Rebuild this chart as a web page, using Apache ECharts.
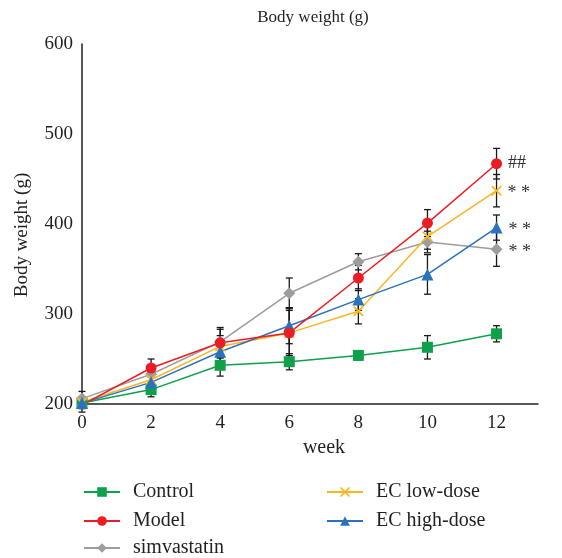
<!DOCTYPE html>
<html>
<head>
<meta charset="utf-8">
<script src="https://cdn.jsdelivr.net/npm/echarts@6/dist/echarts.min.js"></script>
<style>
  html, body { margin: 0; padding: 0; background: #fff; }
  #chart { width: 562px; height: 558px; }
</style>
</head>
<body>
<div id="chart"></div>
<script>
// weeks on the x axis
const weeks = [0, 2, 4, 6, 8, 10, 12];

// mean body weight (g) per group
const control    = [201, 216, 243, 247, 254, 263, 278];
const model      = [199, 240, 268, 279, 340, 401, 467];
const simva      = [206, 233, 269, 323, 358, 380, 372];
const lowDose    = [202, 227, 264, 279, 303, 386, 437];
const highDose   = [201, 224, 258, 287, 316, 344, 396];

// error bar half-widths (g)
const controlErr = [6, 8, 12, 9, 5, 13, 9];
const modelErr   = [8, 10, 17, 28, 14, 15, 17];
const simvaErr   = [8, 9, 14, 17, 9, 12, 19];
const lowErr     = [6, 9, 12, 25, 14, 14, 18];
const highErr    = [6, 8, 12, 20, 12, 22, 14];

// significance marks next to the last point
const marks = { model: '##', low: '* *', high: '* *', simva: '* *' };

const serif = '"Liberation Serif", "DejaVu Serif", serif';
const textColor = '#231f20';

const xMark = 'path://M0,0L1.2,0L5,3.8L8.8,0L10,0L10,1.2L6.2,5L10,8.8L10,10L8.8,10L5,6.2L1.2,10L0,10L0,8.8L3.8,5L0,1.2Z';

function pts(vals, mark) {
    return vals.map((v, i) => {
        const item = { value: [weeks[i], v] };
        if (mark && i === vals.length - 1) {
            item.label = {
                show: true, position: 'right', distance: 6,
                offset: mark === '##' ? [0, 0] : [0, 3],
                formatter: mark, fontFamily: serif, fontSize: 18, color: '#333'
            };
        }
        return item;
    });
}

function errSeries(vals, errs) {
    return {
        type: 'custom',
        z: 1,
        silent: true,
        data: vals.map((v, i) => [weeks[i], v - errs[i], v + errs[i]]),
        renderItem: function (params, api) {
            const lo = api.coord([api.value(0), api.value(1)]);
            const hi = api.coord([api.value(0), api.value(2)]);
            const w = 3.5;
            const style = { stroke: '#1a1a1a', lineWidth: 1.3 };
            return {
                type: 'group',
                children: [
                    { type: 'line', shape: { x1: lo[0], y1: lo[1], x2: hi[0], y2: hi[1] }, style },
                    { type: 'line', shape: { x1: lo[0] - w, y1: lo[1], x2: lo[0] + w, y2: lo[1] }, style },
                    { type: 'line', shape: { x1: hi[0] - w, y1: hi[1], x2: hi[0] + w, y2: hi[1] }, style }
                ]
            };
        }
    };
}

function lineSeries(name, vals, color, symbol, size, mark) {
    return {
        name: name,
        type: 'line',
        z: 3,
        data: pts(vals, mark),
        symbol: symbol,
        symbolSize: size,
        showAllSymbol: true,
        lineStyle: { color: color, width: 1.5 },
        itemStyle: { color: color, opacity: 1 },
        emphasis: { disabled: true }
    };
}

// one legend box per entry so the two columns stay where the reference has them
function legendItem(name, left, top) {
    return {
        data: [name],
        left: left, top: top,
        itemWidth: 36, itemHeight: 12,
        textStyle: { fontFamily: serif, fontSize: 20, color: textColor, padding: [0, 0, 0, 8] }
    };
}

const chart = echarts.init(document.getElementById('chart'));

chart.setOption({
    animation: false,
    title: {
        text: 'Body weight (g)',
        left: 308, top: 4, textAlign: 'center',
        textStyle: { fontFamily: serif, fontSize: 17, fontWeight: 'normal', color: textColor }
    },
    grid: { left: 82, right: 24, top: 44, bottom: 154 },
    legend: [
        legendItem('Control', 78, 477),
        legendItem('Model', 78, 506),
        legendItem('simvastatin', 78, 533),
        legendItem('EC low-dose', 321, 477),
        legendItem('EC high-dose', 321, 506)
    ],
    xAxis: {
        type: 'value',
        min: 0, max: 13.2, interval: 2,
        name: 'week', nameLocation: 'middle', nameGap: 32,
        nameTextStyle: { fontFamily: serif, fontSize: 20, color: textColor, padding: [0, 0, 0, 28] },
        axisLine: { lineStyle: { color: '#231f20', width: 1.5 } },
        axisTick: { show: false },
        splitLine: { show: false },
        axisLabel: {
            showMaxLabel: false,
            fontFamily: serif, fontSize: 19, color: textColor, margin: 10
        }
    },
    yAxis: {
        type: 'value',
        min: 200, max: 600, interval: 100,
        name: 'Body weight (g)', nameLocation: 'middle', nameGap: 50,
        nameTextStyle: { fontFamily: serif, fontSize: 19, color: textColor, padding: [0, 0, 0, -22] },
        axisLine: { show: true, lineStyle: { color: '#231f20', width: 1.5 } },
        axisTick: { show: false },
        splitLine: { show: false },
        axisLabel: { fontFamily: serif, fontSize: 19, color: textColor, margin: 9 }
    },
    series: [
        errSeries(control, controlErr),
        errSeries(model, modelErr),
        errSeries(simva, simvaErr),
        errSeries(lowDose, lowErr),
        errSeries(highDose, highErr),
        lineSeries('Control', control, '#0fa04b', 'rect', 11, null),
        lineSeries('simvastatin', simva, '#9d9d9d', 'diamond', 12, marks.simva),
        lineSeries('EC low-dose', lowDose, '#fbb520', xMark, 10, marks.low),
        lineSeries('EC high-dose', highDose, '#2a72bd', 'triangle', 12, marks.high),
        lineSeries('Model', model, '#ec1c24', 'circle', 11, marks.model)
    ]
});
</script>
</body>
</html>
